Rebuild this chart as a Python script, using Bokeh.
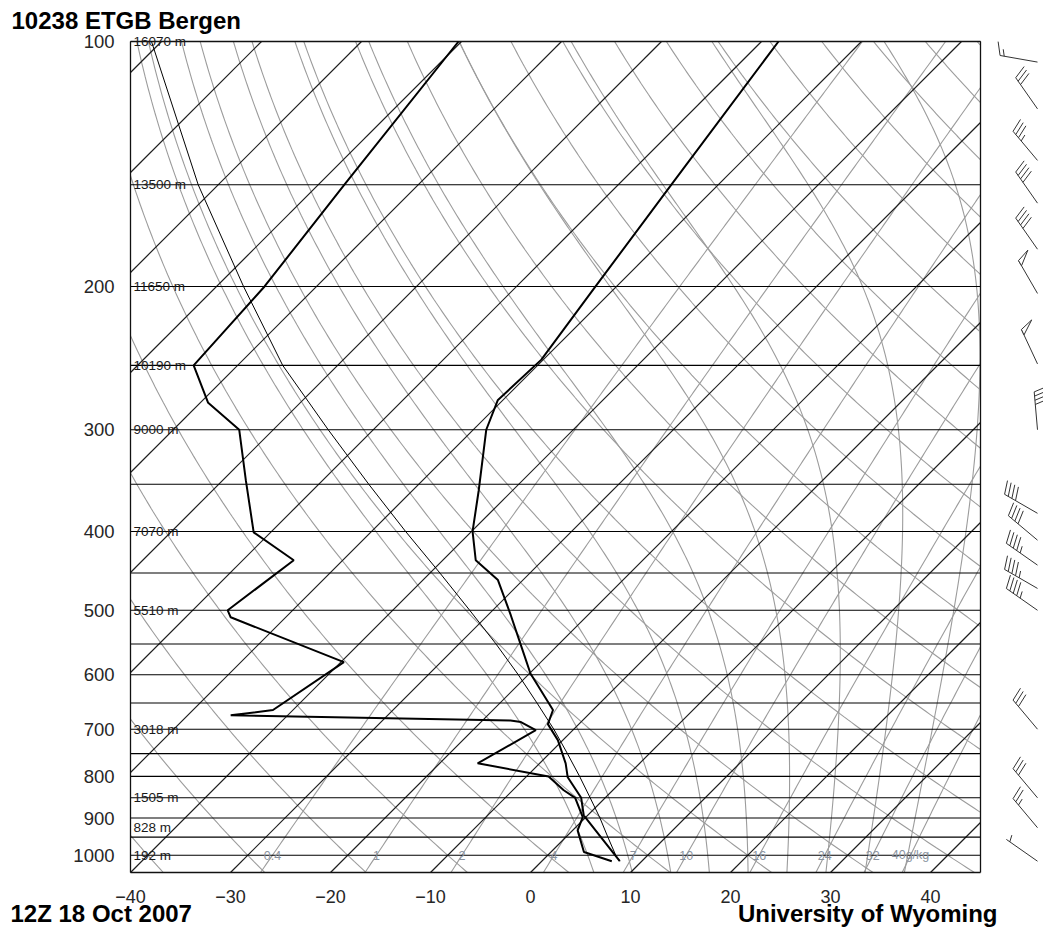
import numpy as np
from bokeh.plotting import figure
from bokeh.models import Range1d, ColumnDataSource
from bokeh.embed import file_html
from bokeh.resources import INLINE
from bokeh.core.properties import value

# ---------------- data ----------------
TITLE = "10238 ETGB Bergen"
STAMP = "12Z 18 Oct 2007"
CREDIT = "University of Wyoming"

temp_p = [1017, 950, 893, 850, 802, 771, 722, 690, 663, 598, 560, 507, 459, 434, 400, 356, 300, 276, 246, 200, 150, 100]
temp_t = [7.8, 3.5, -0.4, -2.4, -5.8, -7.4, -10.5, -13.1, -14.0, -19.9, -23.0, -27.7, -32.5, -36.7, -39.9, -43.4,
          -48.7, -50.5, -50.2, -52.1, -54.7, -58.3]

dewp_p = [1017, 991, 932, 898, 850, 832, 800, 771, 702, 686, 683, 673, 663, 579, 510, 500, 434, 401, 346, 300,
          278, 250, 200, 150, 100]
dewp_t = [7.0, 3.3, 0.5, -0.3, -3.0, -4.9, -7.8, -16.2, -13.7, -16.0, -17.2, -45.7, -42.0, -39.7, -55.5, -56.5,
          -54.9, -61.7, -67.7, -73.4, -79.2, -84.4, -85.2, -87.4, -90.3]

parcel_p = [1017, 1000, 950, 900, 850, 800, 750, 700, 650, 600, 550, 500, 450, 400, 350, 300, 250, 200, 150, 100]
parcel_t = [7.8, 6.8, 4.2, 1.5, -1.5, -4.7, -8.2, -12.0, -16.3, -21.0, -26.3, -32.3, -39.0, -46.6, -55.0, -64.5,
            -75.5, -87.3, -102.0, -121.0]

height_p = [100, 150, 200, 250, 300, 400, 500, 700, 850, 925, 1000]
height_m = [16070, 13500, 11650, 10190, 9000, 7070, 5510, 3018, 1505, 828, 192]

isobar_p = list(range(100, 1001, 50))
isotherm_t = list(range(-120, 50, 10))
dry_theta = list(range(-40, 181, 10))
moist_thw = [4, 8, 12, 16, 20, 24, 28, 32, 36]
mix_w = [0.4, 1, 2, 4, 7, 10, 16, 24, 32, 40]
mix_lbl = ["0.4", "1", "2", "4", "7", "10", "16", "24", "32", "40g/kg"]

wind_p = [1017, 925, 850, 700, 500, 470, 440, 410, 380, 300, 249, 204, 180, 158, 140, 121, 106]
wind_dir = [305, 320, 320, 320, 305, 300, 305, 310, 300, 355, 335, 330, 325, 325, 320, 325, 280]
wind_kt = [5, 25, 30, 30, 45, 45, 45, 40, 40, 40, 50, 50, 40, 40, 35, 30, 15]

p_ticks = [100, 200, 300, 400, 500, 600, 700, 800, 900, 1000]
t_ticks = [-40, -30, -20, -10, 0, 10, 20, 30, 40]

# ---------------- geometry (page pixels) ----------------
W, H = 1043, 927
BOX_L, BOX_R, BOX_T, BOX_B = 130, 980, 41, 872
P_BOT, P_TOP = 1050.0, 100.0
T_LEFT, T_EDGE = -40.0, 45.0
PX_PER_DEG = (BOX_R - BOX_L) / (T_EDGE - T_LEFT)
PX_PER_DEC = (BOX_B - BOX_T) / (np.log10(P_BOT) - np.log10(P_TOP))
K = PX_PER_DEC / PX_PER_DEG
U_MAX = np.log10(P_BOT) - np.log10(P_TOP)


def X(px):
    return T_LEFT + (px - BOX_L) / PX_PER_DEG


def Y(py):
    return np.log10(P_TOP) + (py - BOX_T) / PX_PER_DEC


def sx(t, p):
    return np.asarray(t, float) + K * (np.log10(P_BOT) - np.log10(np.asarray(p, float)))


def ly(p):
    return np.log10(np.asarray(p, float))


def es(tk):
    tc = tk - 273.15
    return 6.112 * np.exp(17.67 * tc / (tc + 243.5))


def moist_line(thw):
    Rd, Cp, Lv, eps = 287.04, 1005.7, 2.501e6, 0.622

    def f(T, p):
        e = es(T)
        rs = eps * e / (p - e)
        return (Rd * T + Lv * rs) / (p * (Cp + Lv * Lv * rs * eps / (Rd * T * T)))

    def integ(pgrid):
        T = thw + 273.15
        out = [T]
        for i in range(len(pgrid) - 1):
            p0, p1 = pgrid[i], pgrid[i + 1]
            h = p1 - p0
            k1 = f(T, p0)
            k2 = f(T + 0.5 * h * k1, p0 + 0.5 * h)
            k3 = f(T + 0.5 * h * k2, p0 + 0.5 * h)
            k4 = f(T + h * k3, p1)
            T = T + h / 6 * (k1 + 2 * k2 + 2 * k3 + k4)
            out.append(T)
        return np.array(out)

    pu = np.geomspace(1000, 100, 300)
    pd = np.geomspace(1000, 1050, 8)
    tu = integ(pu)
    td = integ(pd)
    pr = np.concatenate([pd[::-1], pu[1:]])
    t = np.concatenate([td[::-1], tu[1:]]) - 273.15
    return pr, t


def mix_td(w, pr):
    e = np.asarray(pr, float) * w / (622.0 + w)
    a = np.log(e / 6.112)
    return 243.5 * a / (17.67 - a)


def clip_x(xa, ya, lo=T_LEFT, hi=T_EDGE):
    """split a polyline into the pieces that lie inside lo <= x <= hi"""
    out = []
    cx, cy = [], []
    for i in range(len(xa)):
        x1, y1 = float(xa[i]), float(ya[i])
        in1 = lo <= x1 <= hi
        if i > 0:
            x0, y0 = float(xa[i - 1]), float(ya[i - 1])
            in0 = lo <= x0 <= hi
            if in0 and not in1:
                b = hi if x1 > hi else lo
                t = (b - x0) / (x1 - x0)
                cx.append(b); cy.append(y0 + t * (y1 - y0))
                if len(cx) > 1:
                    out.append((cx, cy))
                cx, cy = [], []
            elif in1 and not in0:
                b = hi if x0 > hi else lo
                t = (b - x0) / (x1 - x0)
                cx, cy = [b], [y0 + t * (y1 - y0)]
        if in1:
            cx.append(x1); cy.append(y1)
    if len(cx) > 1:
        out.append((cx, cy))
    return out


def add_clipped(xs, ys, xa, ya):
    for cx, cy in clip_x(xa, ya):
        xs.append(cx)
        ys.append(cy)


# ---------------- figure ----------------
p = figure(frame_width=W, frame_height=H, min_border=0,
           x_range=Range1d(X(0), X(W)), y_range=Range1d(Y(H), Y(0)),
           x_axis_type=None, y_axis_type=None,
           output_backend="svg", toolbar_location=None,
           background_fill_color="white", border_fill_color="white")
p.outline_line_color = None
p.grid.visible = False

GRAY = "#9c9c9c"
pp = np.geomspace(P_BOT, P_TOP, 300)

xs, ys = [], []
# dry adiabats
for th in dry_theta:
    t = (th + 273.15) * (pp / 1000.0) ** 0.2857 - 273.15
    add_clipped(xs, ys, sx(t, pp), ly(pp))
# moist adiabats
for thw in moist_thw:
    mp, mt = moist_line(thw)
    add_clipped(xs, ys, sx(mt, mp), ly(mp))
# mixing ratio lines
for w in mix_w:
    add_clipped(xs, ys, sx(mix_td(w, pp), pp), ly(pp))
p.multi_line(xs, ys, line_color=GRAY, line_width=1.1)

# isotherms, clipped to the diagram box
xs, ys = [], []
for t0 in isotherm_t:
    u0 = max(0.0, (T_LEFT - t0) / K)
    u1 = min(U_MAX, (T_EDGE - t0) / K)
    if u1 <= u0:
        continue
    xs.append([t0 + K * u0, t0 + K * u1])
    ys.append([np.log10(P_BOT) - u0, np.log10(P_BOT) - u1])
p.multi_line(xs, ys, line_color="#1e1e1e", line_width=1.2)

# isobars
xs = [[T_LEFT, T_EDGE] for _ in isobar_p]
ys = [[float(ly(v)), float(ly(v))] for v in isobar_p]
p.multi_line(xs, ys, line_color="black", line_width=1.1)

# border
p.multi_line([[T_LEFT, T_LEFT], [T_EDGE, T_EDGE], [T_LEFT, T_EDGE], [T_LEFT, T_EDGE]],
             [[ly(P_BOT), ly(P_TOP)], [ly(P_BOT), ly(P_TOP)], [ly(P_TOP), ly(P_TOP)], [ly(P_BOT), ly(P_BOT)]],
             line_color="#111111", line_width=1.3)

# sounding
p.line(sx(parcel_t, parcel_p), ly(parcel_p), line_color="black", line_width=1)
p.line(sx(temp_t, temp_p), ly(temp_p), line_color="black", line_width=2)
p.line(sx(dewp_t, dewp_p), ly(dewp_p), line_color="black", line_width=2)

FONT = value("Liberation Sans")

# height labels
src_h = ColumnDataSource(dict(x=[X(133)] * len(height_p), y=ly(height_p),
                              t=["%d m" % h for h in height_m]))
p.text("x", "y", text="t", source=src_h, text_font=FONT, text_font_size="13.5px",
       text_color="#1a1a1a", text_baseline="middle", text_align="left")

# mixing ratio labels
src_w = ColumnDataSource(dict(x=[float(sx(mix_td(w, 1000.0), 1000.0)) for w in mix_w],
                              y=[float(ly(1000.0))] * len(mix_w), t=mix_lbl))
p.text("x", "y", text="t", source=src_w, text_font=FONT, text_font_size="12.5px",
       text_color="#8a93a0", text_baseline="middle", text_align="center")

# wind barbs
BASE_X = X(1037)
L_STAFF, L_BARB, SPACING, PEN_W = 38.0, 14.0, 4.2, 6.0
seg_x, seg_y, pen_x, pen_y = [], [], [], []


def to_data(bx, by, dx, dy):
    return bx + dx / PX_PER_DEG, by + dy / PX_PER_DEC


for pr, d, spd in zip(wind_p, wind_dir, wind_kt):
    bx, by = BASE_X, float(ly(pr))
    r = np.radians(d)
    s = np.array([np.sin(r), -np.cos(r)])
    f = np.array([-s[1], s[0]])
    ang = np.radians(18)
    fb = f * np.cos(ang) + s * np.sin(ang)
    tip = s * L_STAFF
    x0, y0 = to_data(bx, by, 0, 0)
    x1, y1 = to_data(bx, by, tip[0], tip[1])
    seg_x.append([x0, x1]); seg_y.append([y0, y1])
    v = int(5 * round(spd / 5.0))
    n50, v = divmod(v, 50)
    n10, v = divmod(v, 10)
    n5 = v // 5
    pos = L_STAFF
    for _ in range(n50):
        a = s * pos
        b = a + fb * L_BARB
        c = s * (pos - PEN_W)
        pts = [to_data(bx, by, q[0], q[1]) for q in (a, b, c)]
        pen_x.append([q[0] for q in pts]); pen_y.append([q[1] for q in pts])
        pos -= PEN_W + 1.5
    for _ in range(n10):
        a = s * pos
        b = a + fb * L_BARB
        pa, pb = to_data(bx, by, *a), to_data(bx, by, *b)
        seg_x.append([pa[0], pb[0]]); seg_y.append([pa[1], pb[1]])
        pos -= SPACING
    if n5:
        if n50 == 0 and n10 == 0:
            pos -= SPACING
        a = s * pos
        b = a + fb * L_BARB * 0.5
        pa, pb = to_data(bx, by, *a), to_data(bx, by, *b)
        seg_x.append([pa[0], pb[0]]); seg_y.append([pa[1], pb[1]])

p.multi_line(seg_x, seg_y, line_color="#333333", line_width=1)
if pen_x:
    p.patches(pen_x, pen_y, fill_color="white", line_color="#333333", line_width=1)

# axis tick labels
src_yt = ColumnDataSource(dict(x=[X(114)] * len(p_ticks), y=ly(p_ticks), t=[str(v) for v in p_ticks]))
p.text("x", "y", text="t", source=src_yt, text_font=FONT, text_font_size="18.5px",
       text_color="#262626", text_baseline="middle", text_align="right")
src_xt = ColumnDataSource(dict(x=t_ticks, y=[Y(896)] * len(t_ticks),
                               t=[("\u2212%d" % -v) if v < 0 else str(v) for v in t_ticks]))
p.text("x", "y", text="t", source=src_xt, text_font=FONT, text_font_size="18px",
       text_color="#262626", text_baseline="middle", text_align="center")

# titles
src_t = ColumnDataSource(dict(x=[X(11), X(10), X(997)], y=[Y(20), Y(913), Y(913)],
                              t=[TITLE, STAMP, CREDIT], a=["left", "left", "right"]))
p.text("x", "y", text="t", source=src_t, text_font=FONT, text_font_size="24px", text_font_style="bold",
       text_color="black", text_baseline="middle", text_align="a")

open("out.html", "w").write(file_html(p, INLINE))
